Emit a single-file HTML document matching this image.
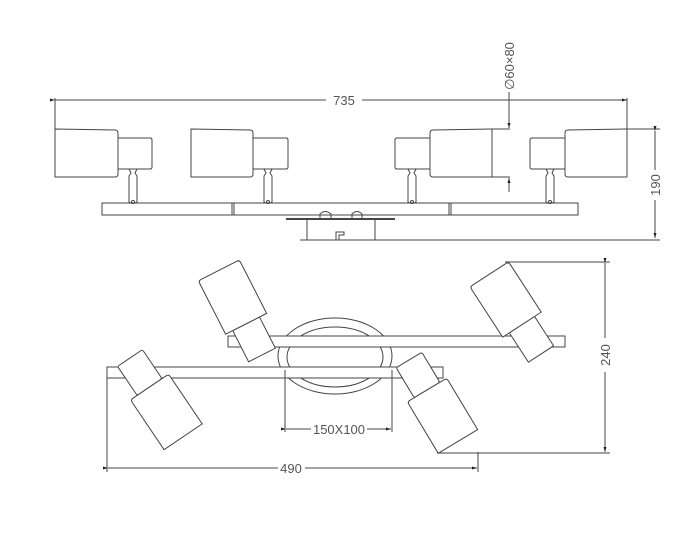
<!DOCTYPE html>
<html><head><meta charset="utf-8"><style>
html,body{margin:0;padding:0;background:#fff;}
svg{display:block;}
text{font-family:"Liberation Sans",sans-serif;font-size:13px;fill:#555;}
</style></head><body>
<svg width="700" height="560" viewBox="0 0 700 560" xmlns="http://www.w3.org/2000/svg">
<defs>
<marker id="a" viewBox="0 0 10 6" refX="10" refY="3" markerWidth="8" markerHeight="3" orient="auto"><path d="M0,0L10,3L0,6z" fill="#222"/></marker>
</defs>
<g fill="none" stroke="#444" stroke-width="1">
<line x1="55" y1="100" x2="326" y2="100" marker-start="url(#a)"/>
<line x1="362" y1="100" x2="627" y2="100" marker-end="url(#a)"/>
<line x1="55" y1="98" x2="55" y2="130"/>
<line x1="627" y1="98" x2="627" y2="177"/>
<path d="M55,129 L115,130 Q118,130 118,133 L118,174 Q118,177 115,177 L55,177 Z"/>
<path d="M118,138 L150,138 Q152,138 152,140 L152,167 Q152,169 150,169 L118,169"/>
<path d="M129,169 L131,173 L129,176 L129,202 Q133,205 137,202 L137,176 L135,173 L137,169"/>
<circle cx="133" cy="202" r="1.5"/>
<path d="M191,129 L250,130 Q253,130 253,133 L253,174 Q253,177 250,177 L191,177 Z"/>
<path d="M253,138 L286,138 Q288,138 288,140 L288,167 Q288,169 286,169 L253,169"/>
<path d="M264,169 L266,173 L264,176 L264,202 Q268,205 272,202 L272,176 L270,173 L272,169"/>
<circle cx="268" cy="202" r="1.5"/>
<path d="M492,129 L433,130 Q430,130 430,133 L430,174 Q430,177 433,177 L492,177"/>
<path d="M430,138 L397,138 Q395,138 395,140 L395,167 Q395,169 397,169 L430,169"/>
<line x1="492" y1="129" x2="510" y2="129"/><line x1="492" y1="177" x2="510" y2="177"/>
<line x1="492" y1="129" x2="492" y2="177"/>
<path d="M408,169 L410,173 L408,176 L408,202 Q412,205 416,202 L416,176 L414,173 L416,169"/>
<circle cx="412" cy="202" r="1.5"/>
<line x1="509" y1="92" x2="509" y2="128" marker-end="url(#a)"/>
<line x1="509" y1="192" x2="509" y2="178" marker-end="url(#a)"/>
<path d="M627,129 L568,130 Q565,130 565,133 L565,174 Q565,177 568,177 L627,177"/>
<path d="M565,138 L532,138 Q530,138 530,140 L530,167 Q530,169 532,169 L565,169"/>
<path d="M546,169 L548,173 L546,176 L546,202 Q550,205 554,202 L554,176 L552,173 L554,169"/>
<circle cx="550" cy="202" r="1.5"/>
<rect x="102" y="203" width="476" height="12"/>
<line x1="232" y1="203" x2="232" y2="215"/><line x1="234" y1="203" x2="234" y2="215"/>
<line x1="449" y1="203" x2="449" y2="215"/><line x1="451" y1="203" x2="451" y2="215"/>
<line x1="286" y1="219" x2="395" y2="219" stroke-width="2"/>
<path d="M320,219 L320,214 Q325,209 331,214 L331,219"/>
<path d="M352,219 L352,214 Q357,209 362,214 L362,219"/>
<path d="M307,219 L307,240 M375,219 L375,240"/>
<path d="M336,240 L336,232 L344,232 L344,235 L339,235 L339,240"/>
<line x1="627" y1="129" x2="660" y2="129"/>
<line x1="300" y1="240" x2="660" y2="240"/>
<line x1="655" y1="131" x2="655" y2="170" marker-start="url(#a)"/>
<line x1="655" y1="200" x2="655" y2="238" marker-end="url(#a)"/>

<ellipse cx="335" cy="356" rx="57" ry="38"/>
<ellipse cx="335" cy="357" rx="48" ry="30"/>
<rect x="228" y="336" width="337" height="11" fill="#fff"/>
<rect x="107" y="367" width="336" height="11" fill="#fff"/>
<g transform="translate(262,355) rotate(153)">
<rect x="-15" y="0" width="30" height="35" fill="#fff"/>
<path d="M-23,35 L23,35 L23,92 Q23,95 20,95 L-20,95 Q-23,95 -23,92 Z" fill="#fff"/>
</g>
<g transform="translate(130,358) rotate(-34)">
<rect x="-15" y="0" width="30" height="35" rx="2" fill="#fff"/>
<path d="M-23,38 Q-23,35 -20,35 L20,35 Q23,35 23,38 L23,95 L-23,95 Z" fill="#fff"/>
</g>
<g transform="translate(541,354) rotate(147)">
<rect x="-15" y="0" width="30" height="35" fill="#fff"/>
<path d="M-23,35 L23,35 L23,92 Q23,95 20,95 L-20,95 Q-23,95 -23,92 Z" fill="#fff"/>
</g>
<g transform="translate(409,360) rotate(-31)">
<rect x="-15" y="0" width="30" height="35" rx="2" fill="#fff"/>
<path d="M-23,38 Q-23,35 -20,35 L20,35 Q23,35 23,38 L23,95 L-23,95 Z" fill="#fff"/>
</g>
<line x1="285" y1="370" x2="285" y2="432"/>
<line x1="392" y1="370" x2="392" y2="432"/>
<line x1="286" y1="429" x2="311" y2="429" marker-start="url(#a)"/>
<line x1="367" y1="429" x2="391" y2="429" marker-end="url(#a)"/>
<line x1="107" y1="378" x2="107" y2="472"/>
<line x1="478" y1="452" x2="478" y2="472"/>
<line x1="108" y1="468" x2="278" y2="468" marker-start="url(#a)"/>
<line x1="305" y1="468" x2="477" y2="468" marker-end="url(#a)"/>
<line x1="505" y1="262" x2="610" y2="262"/>
<line x1="437" y1="453" x2="610" y2="453"/>
<line x1="605" y1="263" x2="605" y2="338" marker-start="url(#a)"/>
<line x1="605" y1="372" x2="605" y2="452" marker-end="url(#a)"/>
</g>
<text x="344" y="105" text-anchor="middle">735</text>
<text x="339" y="434" text-anchor="middle">150X100</text>
<text x="291" y="473" text-anchor="middle">490</text>
<text transform="translate(514,66) rotate(-90)" text-anchor="middle">∅60×80</text>
<text transform="translate(660,185) rotate(-90)" text-anchor="middle">190</text>
<text transform="translate(610,355) rotate(-90)" text-anchor="middle">240</text>
</svg>
</body></html>
